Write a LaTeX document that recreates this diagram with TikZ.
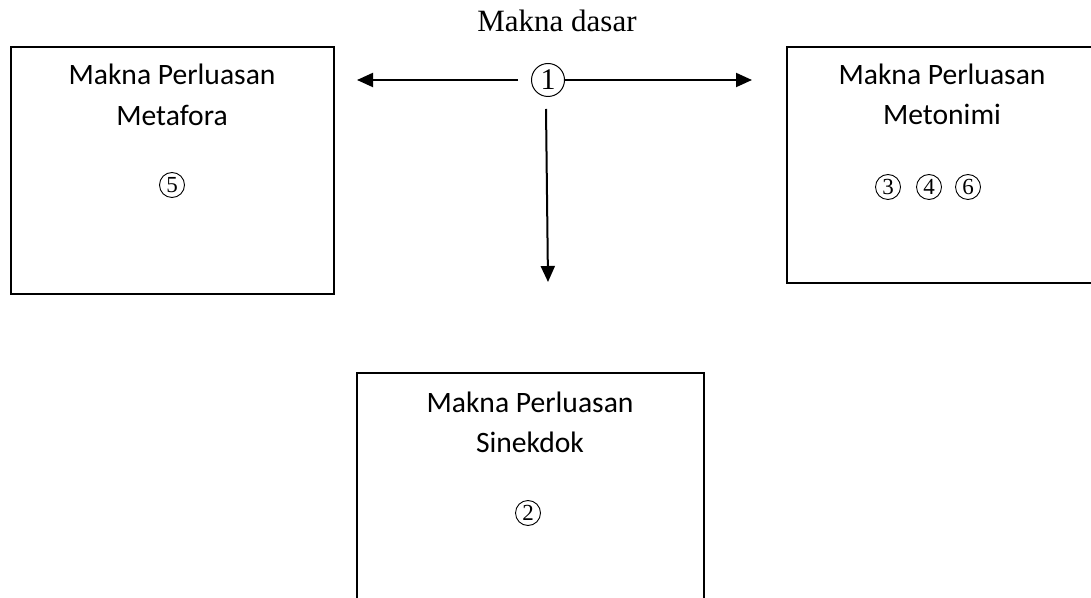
\documentclass[tikz,border=0pt]{standalone}
\usepackage{fontspec}
\setmainfont{Liberation Serif}
\newfontfamily\calibrifont{Carlito}
\usetikzlibrary{arrows.meta}
\begin{document}
\begin{tikzpicture}[x=0.5pt,y=-0.5pt,
  box/.style={draw,line width=1pt,rectangle,anchor=north west,inner sep=0pt},
  title/.style={font=\calibrifont\fontsize{14.8}{16}\selectfont,anchor=base,inner sep=0pt},
  cnum/.style={draw,circle,line width=0.45pt,minimum size=12.5pt,inner sep=0pt,font=\rmfamily\fontsize{11.5}{11.5}\selectfont},
  arr/.style={line width=1pt,-{Triangle[length=8pt,width=7pt]}}]
\clip (0,0) rectangle (1091,598);
% boxes
\node[box,minimum width=161.5pt,minimum height=123.5pt] (metafora) at (10,46) {};
\node[box,minimum width=156pt,minimum height=118pt] (metonimi) at (786,46) {};
\node[box,minimum width=173.5pt,minimum height=150pt] (sinekdok) at (356,372) {};
% top label and circled one
\node[anchor=base,inner sep=0pt,font=\fontsize{15.5}{17}\selectfont] (dasar) at (557,32) {Makna dasar};
\node[draw,circle,line width=0.5pt,minimum size=16.5pt,inner sep=0pt,font=\fontsize{15}{15}\selectfont] (c1) at (548,80) {1};
% box texts
\node[title] (t1a) at (172,85) {Makna Perluasan};
\node[title] (t1b) at (172,126) {Metafora};
\node[cnum] (n5) at (172,185) {5};
\node[title] (t2a) at (942,85) {Makna Perluasan};
\node[title] (t2b) at (942,125) {Metonimi};
\node[cnum] (n3) at (888,187) {3};
\node[cnum] (n4) at (929,187) {4};
\node[cnum] (n6) at (968,187) {6};
\node[title] (t3a) at (530,412) {Makna Perluasan};
\node[title] (t3b) at (530,452) {Sinekdok};
\node[cnum] (n2) at (528,513) {2};
% arrows
\coordinate (lstart) at (518,80);
\coordinate (ltip) at (357,80);
\coordinate (rtip) at (752,80);
\coordinate (dstart) at (546,109);
\coordinate (dtip) at (548,282);
\draw[arr] (lstart) -- (ltip);
\draw[arr] (c1.east) -- (rtip);
\draw[arr] (dstart) -- (dtip);
\end{tikzpicture}
\end{document}
